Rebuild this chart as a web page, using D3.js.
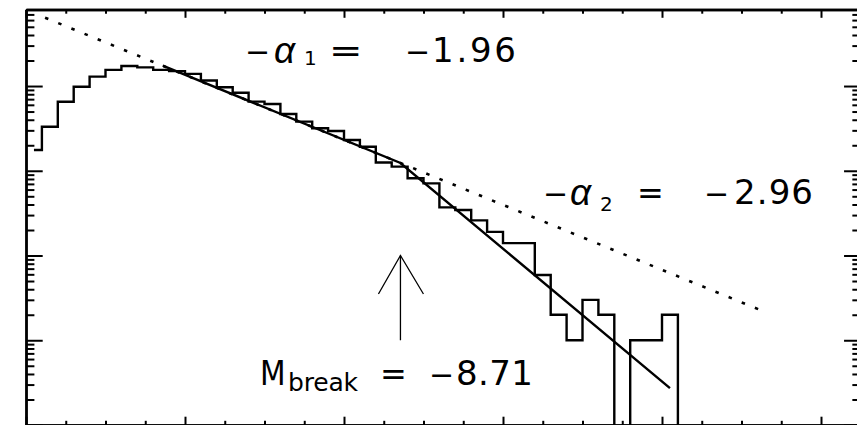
<!DOCTYPE html>
<html><head><meta charset="utf-8">
<script src="https://cdn.jsdelivr.net/npm/d3@7"></script>
<style>html,body{margin:0;padding:0;background:#fff;overflow:hidden}</style>
</head><body><svg id="c" width="857" height="425"></svg>
<script>
// ---------- data ----------
const binCenters = [-4.1,-4.3,-4.5,-4.7,-4.9,-5.1,-5.3,-5.5,-5.7,-5.9,
  -6.1,-6.3,-6.5,-6.7,-6.9,-7.1,-7.3,-7.5,-7.7,-7.9,
  -8.1,-8.3,-8.5,-8.7,-8.9,-9.1,-9.3,-9.5,-9.7,-9.9,
  -10.1,-10.3,-10.5,-10.7,-10.9,-11.1,-11.3,-11.5,-11.7,-11.9,
  -12.1,-12.3];
const counts = [1760,3310,6530,9820,12900,15500,17200,16600,15500,15000,
  13900,11600,9660,8340,6540,6140,4680,3800,3170,2950,
  2310,1920,1250,1120,815,710,370,345,260,190,
  140,140,59,20,10,30,20,0,10,10,
  20,0];
const singleLawM = [-4.24, -13.3];
const singleLawN = [64000, 21.5];
const brokenLawM = [-5.72, -8.71, -12.1];
const brokenLawN = [17400, 1236, 2.72];
const breakM = -8.71;
const arrowN = [10, 100];
const alpha1Value = "1.96";
const alpha2Value = "2.96";
const breakValue = "8.71";

// ---------- layout ----------
const L = 26, R = 860.75, T = 9.5, B = 425;
const svg = d3.select("#c");
const x = d3.scaleLinear().domain([-4, -14.5]).range([L, R]);
const y = d3.scaleLog().domain([1, 80000]).range([B, T]);
const yFloor = 0.5;

svg.append("defs").append("clipPath").attr("id","clip")
  .append("rect").attr("x",L).attr("y",T).attr("width",R-L).attr("height",B-T);

// axes
const xTicks = x.ticks(21);
const isXMajor = v => Math.abs(Math.round(v/2)*2 - v) < 1e-6;
const yTicks = y.ticks();
const isYMajor = v => Math.abs(Math.log10(v) - Math.round(Math.log10(v))) < 1e-6;

function styleAxis(g){
  g.selectAll(".domain").attr("stroke","#000").attr("stroke-width",2.4);
  g.selectAll(".tick line").attr("stroke","#000").attr("stroke-width",2);
  g.selectAll(".tick text").remove();
}
const xLenMaj = 8.3, xLenMin = 4.2, yLenMaj = 16.7, yLenMin = 8.4;
[[d3.axisBottom, B],[d3.axisTop, T]].forEach(([ax, pos])=>{
  svg.append("g").attr("transform",`translate(0,${pos})`)
    .call(ax(x).tickValues(xTicks.filter(v=>!isXMajor(v))).tickSize(-xLenMin).tickSizeOuter(0).tickFormat(""))
    .call(styleAxis);
  svg.append("g").attr("transform",`translate(0,${pos})`)
    .call(ax(x).tickValues(xTicks.filter(isXMajor)).tickSize(-xLenMaj).tickSizeOuter(0).tickFormat(""))
    .call(styleAxis);
});
[[d3.axisLeft, L],[d3.axisRight, R]].forEach(([ax, pos])=>{
  svg.append("g").attr("transform",`translate(${pos},0)`)
    .call(ax(y).tickValues(yTicks.filter(v=>!isYMajor(v))).tickSize(-yLenMin).tickSizeOuter(0).tickFormat(""))
    .call(styleAxis);
  svg.append("g").attr("transform",`translate(${pos},0)`)
    .call(ax(y).tickValues(yTicks.filter(isYMajor)).tickSize(-yLenMaj).tickSizeOuter(0).tickFormat(""))
    .call(styleAxis);
});

const plot = svg.append("g").attr("clip-path","url(#clip)");

// histogram (steps centred on bins)
const hist = binCenters.map((m,i)=>({m, n: counts[i]}));
plot.append("path").datum(hist)
  .attr("fill","none").attr("stroke","#000").attr("stroke-width",2.4)
  .attr("stroke-linejoin","miter")
  .attr("d", d3.line().x(d=>x(d.m)).y(d=>y(Math.max(d.n, yFloor))).curve(d3.curveStep));

// single power law (dotted)
const lineGen = d3.line().x(d=>x(d.m)).y(d=>y(d.n));
plot.append("path").datum(singleLawM.map((m,i)=>({m, n: singleLawN[i]})))
  .attr("fill","none").attr("stroke","#000").attr("stroke-width",2.6)
  .attr("stroke-dasharray","3.5,10.7").attr("d", lineGen);

// broken power law (solid)
plot.append("path").datum(brokenLawM.map((m,i)=>({m, n: brokenLawN[i]})))
  .attr("fill","none").attr("stroke","#000").attr("stroke-width",2.4)
  .attr("d", lineGen);

// arrow at the break
const ax0 = x(breakM), yTail = y(arrowN[0]), yTip = y(arrowN[1]);
plot.append("line").attr("x1",ax0).attr("x2",ax0).attr("y1",yTail).attr("y2",yTip)
  .attr("stroke","#000").attr("stroke-width",1.3);
plot.append("path")
  .attr("d",`M${ax0-22},${yTip+38.5}L${ax0},${yTip}L${ax0+23},${yTip+38.5}`)
  .attr("fill","none").attr("stroke","#000").attr("stroke-width",1.3);

// ---------- labels ----------
const fontA = "'Liberation Sans', Arial, sans-serif";
const fontD = "'DejaVu Sans', sans-serif";
function label(xp, yp, txt, size, opts={}){
  const t = svg.append("text").attr("font-family",opts.font || fontA)
    .attr("font-size",size).attr("fill","#000").text(txt);
  const sx = opts.sx || 1;
  t.attr("transform",`translate(${xp},${yp}) scale(${sx},1)`);
  if(opts.italic) t.attr("font-style","italic");
  if(opts.len) t.attr("textLength",opts.len/sx).attr("lengthAdjust","spacing");
  return t;
}
// -alpha_1 = -1.96
label(245, 62, "−", 30, {font:fontD});
label(274, 63, "α", 37, {italic:true});
label(304, 65, "1", 20, {font:fontD});
label(329, 62, "=", 32, {font:fontD, sx:1.25});
label(405, 62, "−", 30, {font:fontD});
label(432, 62, alpha1Value, 34, {font:fontD, len:84});
// -alpha_2 = -2.96
label(543, 204, "−", 30, {font:fontD});
label(570, 205, "α", 37, {italic:true});
label(600, 211, "2", 20, {font:fontD});
label(637, 204, "=", 32, {font:fontD});
label(704, 204, "−", 30, {font:fontD});
label(734, 204, alpha2Value, 34, {font:fontD, len:79});
// M_break = -8.71
label(260, 385, "M", 33, {font:fontD, sx:0.9});
label(288, 391, "break", 25, {font:fontD, len:70});
label(380, 385, "=", 32, {font:fontD});
label(429, 385, "−", 30, {font:fontD});
label(456, 385, breakValue, 34, {font:fontD, len:77});
</script></body></html>
